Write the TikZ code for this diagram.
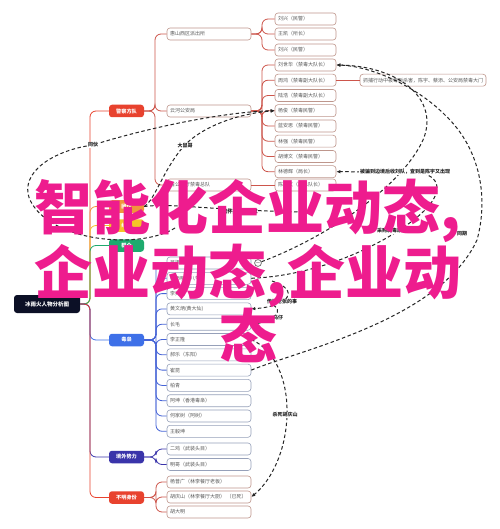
\documentclass[tikz,border=0pt]{standalone}
\usepackage{fontspec}
\newfontfamily\cjk{Noto Sans CJK SC}
\usetikzlibrary{arrows.meta}
\definecolor{mmnavy}{RGB}{12, 16, 38}
\definecolor{mmred}{RGB}{232, 66, 46}
\definecolor{mmorange}{RGB}{240, 150, 60}
\definecolor{mmyellow}{RGB}{245, 195, 40}
\definecolor{mmgreen}{RGB}{30, 170, 110}
\definecolor{mmblue}{RGB}{62, 112, 232}
\definecolor{mmindigo}{RGB}{58, 52, 170}
\definecolor{mmpink}{RGB}{238, 28, 142}
\definecolor{leafred}{RGB}{190, 150, 140}
\definecolor{leafblue}{RGB}{150, 160, 185}
\definecolor{linkred}{RGB}{205, 85, 75}
\definecolor{linkblue}{RGB}{70, 100, 215}
\tikzset{
    mmroot/.style={fill=mmnavy, rounded corners=3pt, minimum width=66pt,
                minimum height=18pt, inner sep=0pt, text=white,
                font=\cjk\bfseries\fontsize{5.5}{6}\selectfont},
    mmbranch/.style={fill=#1, rounded corners=3pt, minimum width=35pt,
                minimum height=12.5pt, inner sep=0pt, text=white,
                font=\cjk\bfseries\fontsize{5.2}{6}\selectfont},
    mmleaf/.style={draw=#1, line width=0.6pt, rounded corners=3pt, fill=white,
                minimum height=12pt, inner xsep=3pt, inner ysep=0pt,
                align=left, text=black!65,
                font=\cjk\fontsize{5}{6}\selectfont},
    leafwide/.style={text width=78pt},
    leafnarrow/.style={text width=55pt},
    leafnote/.style={text width=120pt},
    mmlink/.style={draw=#1, line width=0.8pt, rounded corners=6pt},
    mmarr/.style={black!85, line width=1pt, dash pattern=on 3.5pt off 2.5pt,
                -{Latex[length=4pt, width=3.5pt]}},
    mmdash/.style={black!85, line width=1pt, dash pattern=on 3.5pt off 2.5pt},
    mmlbl/.style={font=\cjk\bfseries\fontsize{5}{6}\selectfont, text=black!85,
                fill=white, inner sep=0.8pt},
    mmwm/.style={font=\cjk\bfseries\fontsize{58}{54}\selectfont, text=mmpink,
                align=center, inner sep=0pt},
}

\begin{document}
\begin{tikzpicture}[x=1pt, y=-1pt]
    \useasboundingbox[fill=white] (0,0) rectangle (499,529);

    \node[mmroot] (root) at (47,304) {冰雨火人物分析图};

    \node[mmbranch=mmred] (police) at (126.5,111) {警察方队};
    \node[mmbranch=mmorange] (gang) at (126.5,206.5) {团伙};
    \node[mmbranch=mmyellow] (informer) at (126.5,225.5) {线人};
    \node[mmbranch=mmgreen] (crowd) at (126.5,245.5) {群众};
    \node[mmbranch=mmblue] (drug) at (126.5,340) {毒枭};
    \node[mmbranch=mmindigo] (foreign) at (126.5,457) {境外势力};
    \node[mmbranch=mmred] (unknown) at (126.5,497.5) {不明身份};

    \coordinate (hubRoot) at (90,304);
    \foreach \b/\c in {police/mmred, gang/mmorange, informer/mmyellow, crowd/mmgreen,
                       drug/mmblue, foreign/mmindigo, unknown/mmred}
        \draw[mmlink=\c] (root.east) -- (hubRoot) |- (\b.west);

    % police side
    \coordinate (hubPolice) at (155,111);
    \node[mmleaf=leafred, leafwide] (huishan) at (209,34) {惠山西区派出所};
    \node[mmleaf=leafred, leafwide] (yunhe) at (209,111) {云河公安局};
    \node[mmleaf=leafred, leafwide] (province) at (209,185) {省公安厅禁毒总队};
    \foreach \n in {huishan, yunhe, province}
        \draw[mmlink=linkred] (police.east) -- (hubPolice) |- (\n.west);

    \coordinate (hubHuishan) at (262,34);
    \foreach \y/\t [count=\i] in {19/{刘兴（民警）}, 34/{王凯（所长）}, 50/{刘兴（民警）}} {
        \node[mmleaf=leafred, leafnarrow] (hs\i) at (305.5,\y) {\t};
        \draw[mmlink=linkred] (huishan.east) -- (hubHuishan) |- (hs\i.west);
    }

    \coordinate (hubYunhe) at (262,111);
    \foreach \y/\t [count=\i] in {65/{刘世华（禁毒大队长）}, 80.2/{周鸿（禁毒副大队长）},
            95.5/{陆浩（禁毒副大队长）}, 110.7/{杨俊（禁毒民警）}, 126/{蓝安思（禁毒民警）},
            141.2/{林强（禁毒民警）}, 156.5/{胡博文（禁毒民警）}, 171.7/{林德辉（局长）}} {
        \node[mmleaf=leafred, leafnarrow] (yh\i) at (305.5,\y) {\t};
        \draw[mmlink=linkred] (yunhe.east) -- (hubYunhe) |- (yh\i.west);
    }
    \node[mmleaf=leafred, leafnote] (yh2note) at (423,80.2)
        {抓捕行动中被毒贩杀害，陈宇、蔡添、公安局禁毒大门};
    \draw[mmlink=linkred] (yh2.east) -- (yh2note.west);

    \node[mmleaf=leafred, leafnarrow] (prov1) at (305.5,185) {陈力文（副总队长）};
    \draw[mmlink=linkred] (province.east) -- (prov1.west);

    % drug lords
    \coordinate (hubDrug) at (156,340);
    \foreach \y/\t [count=\i] in {263/{吴振峰（老三）}, 278.3/{蔡添明（八爷）}, 293.6/{李兆生},
            308.9/{黄文炳(黄大仙)}, 324.2/{长毛}, 339.5/{李正隆}, 354.8/{郝乐（东阳）},
            370.1/{崔昆}, 385.4/{柏青}, 400.7/{阿坤（香港毒枭）}, 416/{何家树（阿树）},
            431.3/{王毅坤}} {
        \node[mmleaf=leafblue, leafwide] (dr\i) at (209,\y) {\t};
        \draw[mmlink=linkblue] (drug.east) -- (hubDrug) |- (dr\i.west);
    }

    \coordinate (hubForeign) at (156,457);
    \node[mmleaf=leafblue, leafwide] (fr1) at (209,449) {二鸡（武装头目）};
    \node[mmleaf=leafblue, leafwide] (fr2) at (209,464.5) {明哥（武装头目）};
    \foreach \n in {fr1, fr2}
        \draw[mmlink=mmindigo] (foreign.east) -- (hubForeign) |- (\n.west);

    \coordinate (hubUnknown) at (156,497.5);
    \node[mmleaf=leafred, leafwide] (uk1) at (209,482) {杨普广（林李餐厅老板）};
    \node[mmleaf=leafred, leafwide] (uk2) at (209,497) {胡庆山（林李餐厅大厨） （已死）};
    \node[mmleaf=leafred, leafwide] (uk3) at (209,512) {胡大明};
    \foreach \n in {uk1, uk2, uk3}
        \draw[mmlink=linkred] (unknown.east) -- (hubUnknown) |- (\n.west);

    % relations
    \coordinate (r1s) at (175,228);
    \coordinate (r8s) at (272,281);
    \coordinate (r9s) at (268,302);
    \coordinate (r10e) at (300,212);
    \node[circle, draw=black!70, line width=0.6pt, fill=white, minimum size=6pt,
          inner sep=0pt, font=\tiny] (mark1) at (258,263) {$-$};

    \draw[mmarr] (r1s) .. controls (140,250) and (50,242) .. (30,200)
        .. controls (18,172) and (55,150) .. (93,145)
        .. controls (140,130) and (220,112) .. (yh4.west);
    \draw[mmarr] (gang.east) .. controls (155,200) and (162,172) .. (183,147)
        .. controls (200,128) and (235,114) .. (yh4.west);
    \draw[mmdash] (gang.east) .. controls (170,203) and (210,210) .. (r10e);
    \draw[mmarr] (mark1) .. controls (320,240) and (400,190) .. (423,140)
        .. controls (440,100) and (400,66) .. (yh1.east);
    \draw[mmarr] (dr8.east) .. controls (300,350) and (440,320) .. (477,240)
        .. controls (488,200) and (482,150) .. (445,115)
        .. controls (415,85) and (370,66) .. (yh1.east);
    \draw[mmarr] (dr6.east) .. controls (275,350) and (288,380) .. (287,415)
        .. controls (286,450) and (272,480) .. (uk2.east);
    \draw[mmarr] (dr2.east) .. controls (330,275) and (400,235) .. (425,210)
        .. controls (445,190) and (440,172) .. (410,172) -- (yh8.east);
    \draw[mmarr] (r8s) .. controls (300,290) and (290,306) .. (dr4.east);
    \draw[mmarr] (r9s) .. controls (290,312) and (270,322) .. (dr5.east);

    \node[mmlbl] (lbl1) at (93,145) {同伙};
    \node[mmlbl] (lbl2) at (185,146) {大鼠哥};
    \node[mmlbl] (lbl3) at (240,212) {因怀疑是吴又斌};
    \node[mmlbl] (lbl4) at (462,234) {同期};
    \node[mmlbl] (lbl5) at (392,231) {采购制毒原料};
    \node[mmlbl] (lbl6) at (405,172) {被骗到边境后收刘队，查到是陈宇又出现};
    \node[mmlbl] (lbl7) at (285,415) {杀死胡庆山};
    \node[mmlbl] (lbl8) at (282,302) {传授老张的事};
    \node[mmlbl] (lbl9) at (278,318) {乌仔};

    \node[mmwm] (wm) at (248,271) {智能化企业动态,\\企业动态,企业动\\态};

\end{tikzpicture}
\end{document}
